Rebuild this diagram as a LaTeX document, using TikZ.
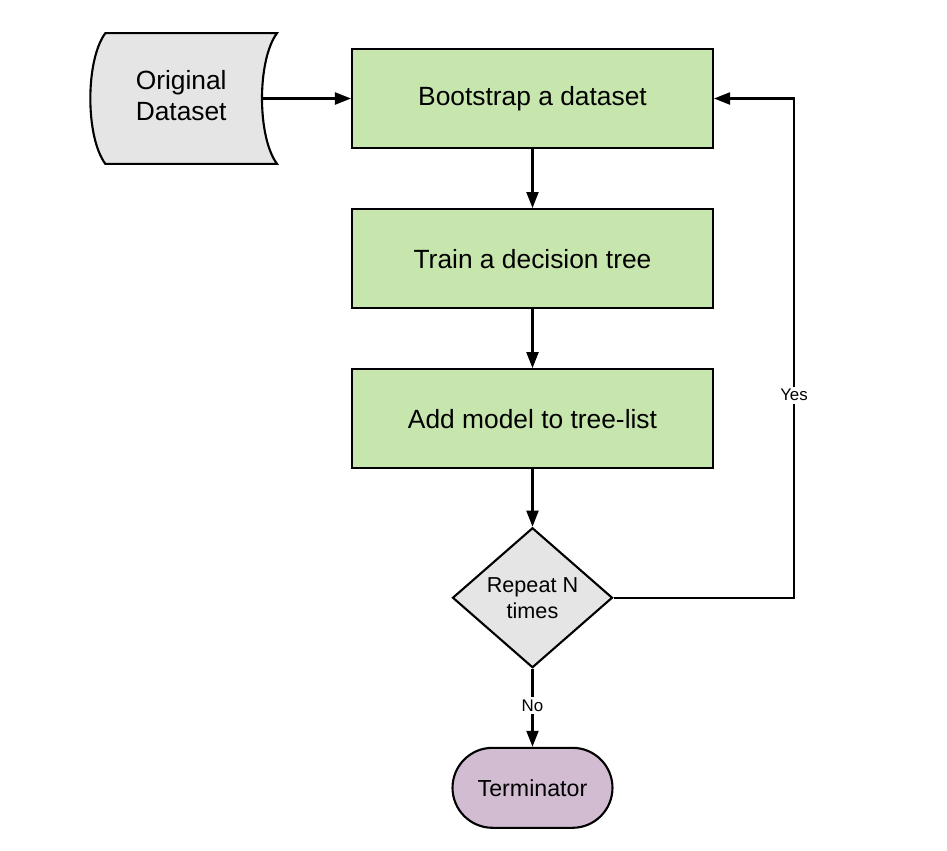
\documentclass[tikz,border=0pt]{standalone}
\usepackage{fontspec}
\setmainfont{Liberation Sans}
\usepackage{tikz}
\usetikzlibrary{shapes.geometric, arrows, arrows.meta}
\usetikzlibrary{positioning}
\definecolor{boxgreen}{HTML}{C7E6AD}
\definecolor{datagray}{HTML}{E5E5E5}
\definecolor{termpurple}{HTML}{D1BCD2}
\tikzstyle{process} = [rectangle, minimum width=7.22cm, minimum height=1.98cm, text centered, draw=black, fill=boxgreen, line width=1.2pt, font=\fontsize{15}{18}\selectfont]
\tikzstyle{decision} = [diamond, minimum width=3.2cm, minimum height=2.8cm, inner sep=0pt, text centered, align=center, draw=black, fill=datagray, line width=1.2pt, font=\fontsize{12.3}{14.8}\selectfont]
\tikzstyle{terminator} = [rectangle, rounded corners=0.8cm, minimum width=3.2cm, minimum height=1.6cm, text centered, draw=black, fill=termpurple, line width=1.2pt, font=\fontsize{13.2}{16}\selectfont]
\tikzstyle{datanode} = [rectangle, minimum width=3.7cm, minimum height=2.6cm, align=center, font=\fontsize{15}{17.6}\selectfont]
\tikzstyle{datashape} = [draw=black, fill=datagray, line width=1.2pt]
\tikzstyle{arrow} = [line width=1.2pt, ->, >={Triangle[length=0.32cm, width=0.24cm]}]
\tikzstyle{choice} = [fill=white, inner sep=1.5pt, font=\fontsize{9.6}{11}\selectfont]

\begin{document}
\begin{tikzpicture}[x=0.02cm, y=-0.02cm, node distance=1.18cm]
    \useasboundingbox (0,0) rectangle (947,850);
    \node (boot) [process] at (532.5,98.5) {Bootstrap a dataset};
    \node (train) [process, below = of boot] {Train a decision tree};
    \node (add) [process, below = of train] {Add model to tree-list};
    \node (repeat) [decision, below = 1.15cm of add] {Repeat N\\times};
    \node (term) [terminator, below = 1.56cm of repeat] {Terminator};
    \node (data) [datanode, left = 1.48cm of boot] {};
    % stored data shape
    \draw [datashape] ([xshift=0.28cm]data.north west) -- (data.north east)
        .. controls +(-20,27) and +(-20,-27) .. (data.south east)
        -- ([xshift=0.28cm]data.south west)
        .. controls +(-20,-27) and +(-20,27) .. ([xshift=0.28cm]data.north west) -- cycle;
    \node [datanode, align=center] at ([xshift=-0.06cm, yshift=0.05cm]data.center) {Original\\Dataset};
    \draw [arrow] ([xshift=-0.3cm]data.east) -- (boot.west);
    \draw [arrow] (boot) -- (train);
    \draw [arrow] (train) -- (add);
    \draw [arrow] (add) -- (repeat);
    \draw [arrow] (repeat) -- node [choice, pos=0.47] {No} (term);
    \draw [arrow] (repeat.east) -| node [choice, pos=0.703] {Yes} ([xshift=1.6cm]boot.east) -- (boot.east);
\end{tikzpicture}
\end{document}
